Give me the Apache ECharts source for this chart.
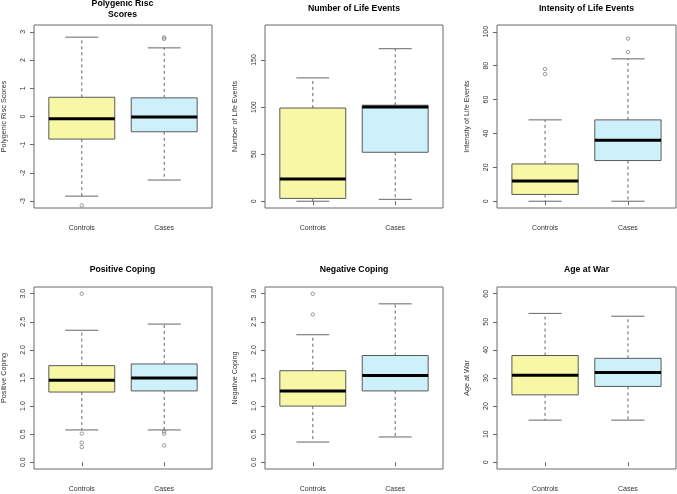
<!DOCTYPE html>
<html><head><meta charset="utf-8">
<script src="https://cdn.jsdelivr.net/npm/echarts@6/dist/echarts.min.js"></script>
<style>html,body{margin:0;padding:0;background:#fff}#c{width:677px;height:494px}</style>
</head><body><div id="c"></div>
<script>
const categories = ['Controls', 'Cases'];
const catPositions = [1, 2];

const panelTitles = ['Polygenic Risc\nScores', 'Number of Life Events', 'Intensity of Life Events', 'Positive Coping', 'Negative Coping', 'Age at War'];
const yAxisNames = ['Polygenic Risc Scores', 'Number of Life Events', 'Intensity of Life Events', 'Positive Coping', 'Negative Coping', 'Age at War'];

// stats: [lower whisker, Q1, median, Q3, upper whisker]
const prsControls = [-2.82, -0.80, -0.08, 0.68, 2.81];
const prsCases = [-2.25, -0.54, -0.02, 0.66, 2.43];
const prsOutliersControls = [-3.15];
const prsOutliersCases = [2.75, 2.80];
const prsTicks = [-3, -2, -1, 0, 1, 2, 3];
const prsRange = [-3.24, 3.24];

const nleControls = [0, 3, 23.5, 99, 131];
const nleCases = [2, 52, 100, 102, 162];
const nleOutliersControls = [];
const nleOutliersCases = [];
const nleTicks = [0, 50, 100, 150];
const nleRange = [-7.2, 187.2];

const ileControls = [0, 4, 12, 22, 48];
const ileCases = [0, 24, 36, 48, 84];
const ileOutliersControls = [75, 78];
const ileOutliersCases = [88, 96];
const ileTicks = [0, 20, 40, 60, 80, 100];
const ileRange = [-4, 104];

const posControls = [0.575, 1.25, 1.46, 1.72, 2.35];
const posCases = [0.575, 1.27, 1.50, 1.75, 2.46];
const posOutliersControls = [3.0, 0.51, 0.35, 0.27];
const posOutliersCases = [0.55, 0.51, 0.30];
const copingTicks = [0, 0.5, 1, 1.5, 2, 2.5, 3];
const copingRange = [-0.12, 3.12];

const negControls = [0.36, 1.0, 1.27, 1.63, 2.27];
const negCases = [0.45, 1.27, 1.545, 1.90, 2.82];
const negOutliersControls = [3.0, 2.63];
const negOutliersCases = [];

const ageControls = [15, 24, 31, 38, 53];
const ageCases = [15, 27, 32, 37, 52];
const ageOutliersControls = [];
const ageOutliersCases = [];
const ageTicks = [0, 10, 20, 30, 40, 50, 60];
const ageRange = [-2.4, 62.4];

const boxColors = ['#f7f7a6', '#cdf0fa'];

const panels = [
  {stats: [prsControls, prsCases], out: [prsOutliersControls, prsOutliersCases], ticks: prsTicks, range: prsRange, dec: 0},
  {stats: [nleControls, nleCases], out: [nleOutliersControls, nleOutliersCases], ticks: nleTicks, range: nleRange, dec: 0},
  {stats: [ileControls, ileCases], out: [ileOutliersControls, ileOutliersCases], ticks: ileTicks, range: ileRange, dec: 0},
  {stats: [posControls, posCases], out: [posOutliersControls, posOutliersCases], ticks: copingTicks, range: copingRange, dec: 1},
  {stats: [negControls, negCases], out: [negOutliersControls, negOutliersCases], ticks: copingTicks, range: copingRange, dec: 1},
  {stats: [ageControls, ageCases], out: [ageOutliersControls, ageOutliersCases], ticks: ageTicks, range: ageRange, dec: 0}
];

const colLeft = [33, 265, 497];
const colWidth = [179, 178, 179];
const rowTop = [25, 287];
const rowHeight = [183, 182];
const titleY = [9, 270];

function renderBox(params, api) {
  const x = api.value(0);
  const lo = api.coord([x, api.value(1)]);
  const q1 = api.coord([x, api.value(2)]);
  const med = api.coord([x, api.value(3)]);
  const q3 = api.coord([x, api.value(4)]);
  const hi = api.coord([x, api.value(5)]);
  const bw = api.size([0.8, 0])[0];
  const cw = bw / 2;
  const cx = lo[0];
  const wStyle = {stroke: '#666', lineWidth: 1, lineDash: [3, 3]};
  const cStyle = {stroke: '#666', lineWidth: 1};
  return {type: 'group', children: [
    {type: 'line', shape: {x1: cx, y1: q3[1], x2: cx, y2: hi[1]}, style: wStyle},
    {type: 'line', shape: {x1: cx, y1: q1[1], x2: cx, y2: lo[1]}, style: wStyle},
    {type: 'line', shape: {x1: cx - cw / 2, y1: hi[1], x2: cx + cw / 2, y2: hi[1]}, style: cStyle},
    {type: 'line', shape: {x1: cx - cw / 2, y1: lo[1], x2: cx + cw / 2, y2: lo[1]}, style: cStyle},
    {type: 'rect', shape: {x: cx - bw / 2, y: q3[1], width: bw, height: q1[1] - q3[1]}, style: {fill: boxColors[params.dataIndex], stroke: '#5a5a5a', lineWidth: 1}},
    {type: 'line', shape: {x1: cx - bw / 2, y1: med[1], x2: cx + bw / 2, y2: med[1]}, style: {stroke: '#000', lineWidth: 3}}
  ]};
}

const grid = [], xAxis = [], yAxis = [], series = [], graphic = [];
panels.forEach((p, i) => {
  const c = i % 3, r = Math.floor(i / 3);
  grid.push({left: colLeft[c], top: rowTop[r], width: colWidth[c], height: rowHeight[r], show: true, borderColor: '#6a6a6a', borderWidth: 1, backgroundColor: 'transparent'});
  xAxis.push({
    type: 'value', gridIndex: i, min: 0.42, max: 2.58,
    axisLine: {show: false}, splitLine: {show: false},
    axisTick: {show: true, customValues: catPositions, length: 4, lineStyle: {color: '#666'}},
    axisLabel: {customValues: catPositions, formatter: v => categories[Math.round(v) - 1], fontSize: 7, color: '#333', margin: 17, fontFamily: 'Liberation Sans'}
  });
  yAxis.push({
    type: 'value', gridIndex: i, min: p.range[0], max: p.range[1],
    axisLine: {show: false}, splitLine: {show: false},
    axisTick: {show: true, customValues: p.ticks, length: 4, lineStyle: {color: '#666'}},
    axisLabel: {customValues: p.ticks, rotate: 90, formatter: v => Number(v).toFixed(p.dec), fontSize: 7, color: '#333', margin: 7, fontFamily: 'Liberation Sans'},
    name: yAxisNames[i], nameLocation: 'middle', nameGap: 26, nameRotate: 90,
    nameTextStyle: {fontSize: 7.2, color: '#333', fontFamily: 'Liberation Sans'}
  });
  series.push({
    type: 'custom', xAxisIndex: i, yAxisIndex: i, renderItem: renderBox,
    encode: {x: 0, y: [1, 2, 3, 4, 5]},
    data: p.stats.map((s, k) => [catPositions[k]].concat(s)), z: 2
  });
  const outData = [];
  p.out.forEach((arr, k) => arr.forEach(v => outData.push([catPositions[k], v])));
  series.push({
    type: 'scatter', xAxisIndex: i, yAxisIndex: i, symbol: 'circle', symbolSize: 3.5,
    itemStyle: {color: 'rgba(0,0,0,0)', borderColor: '#666', borderWidth: 0.8},
    data: outData, z: 3, silent: true
  });
  graphic.push({
    type: 'text', x: colLeft[c] + colWidth[c] / 2, y: titleY[r],
    style: {text: panelTitles[i], fontSize: 8.7, fontWeight: 'bold', fontFamily: 'Liberation Sans', fill: '#000', textAlign: 'center', textVerticalAlign: 'middle', lineHeight: 10.5}
  });
});

const chart = echarts.init(document.getElementById('c'), null, {renderer: 'canvas'});
chart.setOption({animation: false, grid, xAxis, yAxis, series, graphic});
</script></body></html>
